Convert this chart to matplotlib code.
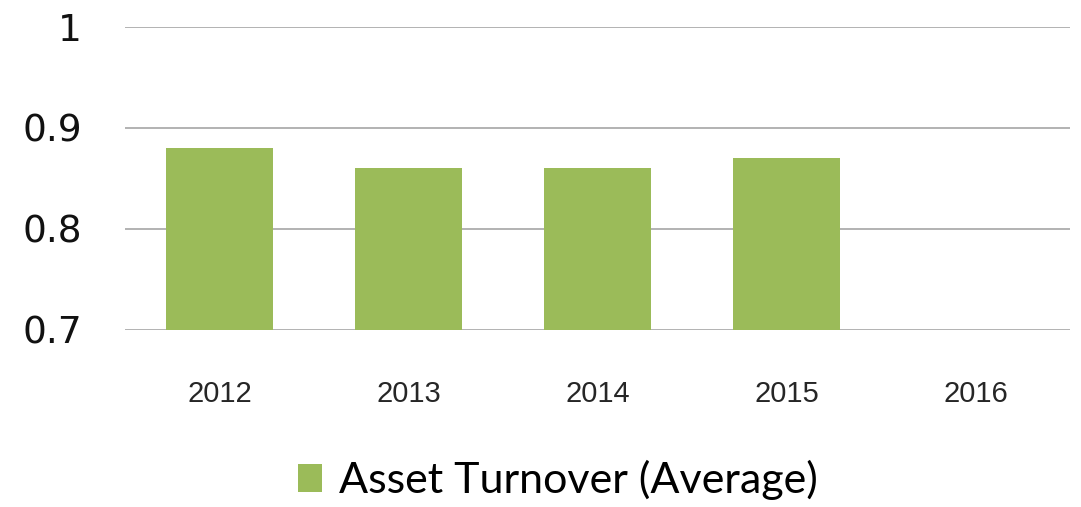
import matplotlib
matplotlib.use("Agg")
import matplotlib.pyplot as plt
import numpy as np
from matplotlib.patches import Patch

years = ["2012", "2013", "2014", "2015", "2016"]
values = [0.88, 0.86, 0.86, 0.87, np.nan]
series_name = "Asset Turnover (Average)"
yticks = [0.7, 0.8, 0.9, 1.0]
ytick_labels = ["0.7", "0.8", "0.9", "1"]

bar_color = "#9BBB59"
grid_color = "#A6A6A6"

fig = plt.figure(figsize=(10.81, 5.07), dpi=100)
ax = fig.add_axes([125/1081, 1-330/507, (1070-125)/1081, (330-27)/507])

x = np.arange(len(years))
ax.bar(x, [0 if np.isnan(v) else v for v in values], width=0.57, color=bar_color, zorder=3)
ax.set_xlim(-0.5, len(years)-0.5)
ax.set_ylim(0.7, 1.0)
ax.set_yticks(yticks)
ax.set_yticklabels(ytick_labels, fontsize=27, family="DejaVu Sans", color="#111111")
ax.set_xticks(x)
ax.set_xticklabels(years, fontsize=21, family="Liberation Sans", color="#262626")
ax.tick_params(axis="y", length=0, pad=31)
ax.tick_params(axis="x", length=0, pad=36)
for s in ax.spines.values():
    s.set_visible(False)
for t in yticks:
    ax.axhline(t, color=grid_color, lw=1.2, zorder=1)
ax.set_facecolor("white")

handle = Patch(facecolor=bar_color, edgecolor="none")
fig.legend([handle], [series_name], loc="center", bbox_to_anchor=(558/1081, 1-480/507),
           frameon=False, prop={"family": "Lato", "size": 31},
           handlelength=0.55, handleheight=0.65, handletextpad=0.4,
           borderpad=0, borderaxespad=0)

fig.savefig("out.png", dpi=100)
